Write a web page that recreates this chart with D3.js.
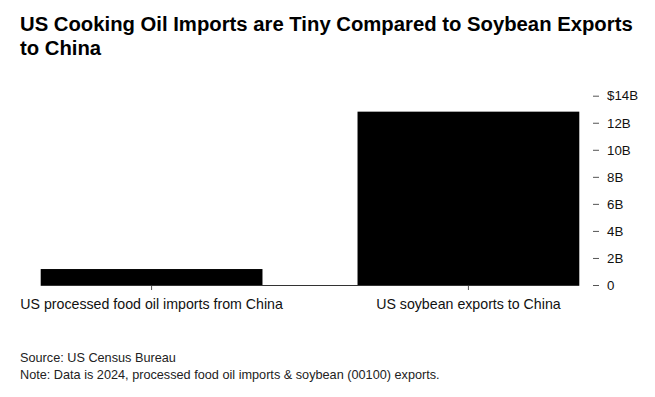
<!DOCTYPE html>
<html lang="en">
<head>
    <meta charset="UTF-8">
    <script src="https://cdnjs.cloudflare.com/ajax/libs/d3/7.8.5/d3.min.js"></script>
    <style>
        body { margin: 0; background: #fff; }
        svg { font-family: "Liberation Sans", Arial, sans-serif; }
        .title { font-weight: bold; font-size: 20.3px; fill: #000; }
        .note { font-size: 12.7px; fill: #222; }
        path.domain { stroke: none; }
        .tick > line { stroke: #555; }
        .tick > text { fill: #111; font-size: 13.3px; }
        .xaxis .tick > text { font-size: 14.2px; }
    </style>
</head>
<body>
    <svg width="655" height="397"></svg>
    <script>
        const categories = ['US processed food oil imports from China', 'US soybean exports to China'];
        const values = [1.18, 12.82]; // billions USD
        const yTicks = [0, 2, 4, 6, 8, 10, 12, 14];

        const svg = d3.select('svg');

        svg.append('text').attr('class', 'title').attr('x', 20).attr('y', 31)
            .text('US Cooking Oil Imports are Tiny Compared to Soybean Exports');
        svg.append('text').attr('class', 'title').attr('x', 20).attr('y', 55)
            .text('to China');

        const xScale = d3.scaleBand().domain(categories).range([40.7, 579.3])
            .paddingInner(0.3).paddingOuter(0);
        const yScale = d3.scaleLinear().domain([0, 14]).range([285, 95.7]);

        const yAxis = d3.axisRight(yScale)
            .tickValues(yTicks)
            .tickSize(6)
            .tickPadding(8)
            .tickFormat(d => d === 0 ? '0' : (d === 14 ? '$14B' : d + 'B'));
        svg.append('g').attr('transform', 'translate(593,0)').call(yAxis);

        svg.selectAll('rect.bar')
            .data(values)
            .enter()
            .append('rect')
            .attr('class', 'bar')
            .attr('x', (d, i) => xScale(categories[i]))
            .attr('width', xScale.bandwidth())
            .attr('y', d => yScale(d))
            .attr('height', d => yScale(0) - yScale(d))
            .attr('fill', '#000');

        // baseline
        svg.append('line')
            .attr('x1', xScale.range()[0]).attr('x2', xScale.range()[1])
            .attr('y1', yScale(0) + 0.5).attr('y2', yScale(0) + 0.5)
            .attr('stroke', '#333');

        const xAxis = d3.axisBottom(xScale).tickSize(4).tickPadding(9);
        svg.append('g').attr('class', 'xaxis')
            .attr('transform', `translate(0,${yScale(0) + 1})`).call(xAxis);

        svg.append('text').attr('class', 'note').attr('x', 20).attr('y', 362)
            .text('Source: US Census Bureau');
        svg.append('text').attr('class', 'note').attr('x', 20).attr('y', 379)
            .text('Note: Data is 2024, processed food oil imports & soybean (00100) exports.');
    </script>
</body>
</html>
